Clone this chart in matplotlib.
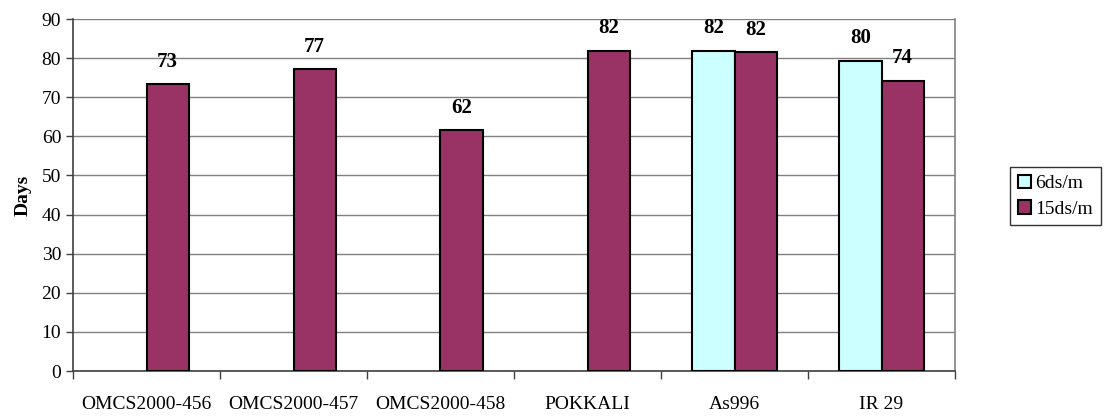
import matplotlib.pyplot as plt
import numpy as np

plt.rcParams['font.family'] = ['Liberation Serif', 'DejaVu Serif']

kategorie = ['OMCS2000-456', 'OMCS2000-457', 'OMCS2000-458', 'POKKALI', 'As996', 'IR 29']
seria_6 = [np.nan, np.nan, np.nan, np.nan, 81.9, 79.3]
seria_15 = [73.3, 77.2, 61.6, 81.9, 81.5, 74.2]
etykiety_6 = ['', '', '', '', '82', '80']
etykiety_15 = ['73', '77', '62', '82', '82', '74']

fig = plt.figure(figsize=(11.07, 4.16), dpi=100)
ax = fig.add_axes([73 / 1107, 1 - 371 / 416, (955 - 73) / 1107, (371 - 19) / 416])

x = np.arange(len(kategorie))
w = 0.286
b6 = ax.bar(x - w / 2, seria_6, w, color='#ccffff', edgecolor='black', linewidth=1.5,
            label='6ds/m', zorder=3)
b15 = ax.bar(x + w / 2, seria_15, w, color='#993366', edgecolor='black', linewidth=1.5,
             label='15ds/m', zorder=3)

for rect, txt in zip(list(b6) + list(b15), etykiety_6 + etykiety_15):
    if txt:
        ax.annotate(txt, (rect.get_x() + rect.get_width() / 2, rect.get_height()),
                    xytext=(0, 9), textcoords='offset points', ha='center', va='bottom',
                    fontsize=15, fontweight='bold')

ax.set_xlim(-0.5, len(kategorie) - 0.5)
ax.set_ylim(0, 90)
ax.set_yticks(range(0, 91, 10))
ax.yaxis.grid(True, color='#808080', linewidth=1, zorder=0)
ax.set_xticks(x)
ax.set_xticklabels(kategorie, fontsize=14)
ax.tick_params(axis='x', length=0, pad=18)
ax.set_xticks(np.arange(-0.5, len(kategorie)), minor=True)
ax.tick_params(axis='x', which='minor', length=6, color='#404040', width=1)
ax.tick_params(axis='y', length=5, color='#404040', width=1, labelsize=14)
ax.set_ylabel('Days', fontsize=14, fontweight='bold', labelpad=7)

ax.spines['left'].set_color('#404040')
ax.spines['bottom'].set_color('#404040')
ax.spines['right'].set_color('#808080')
ax.spines['top'].set_visible(False)
for s in ax.spines.values():
    s.set_linewidth(1.2)

leg = ax.legend(loc='center left', bbox_to_anchor=(1010 / 1107, 1 - 196 / 416),
                bbox_transform=fig.transFigure, frameon=True, fancybox=False,
                edgecolor='black', fontsize=14, handlelength=0.7, handleheight=0.7,
                handletextpad=0.2, borderpad=0.4, labelspacing=0.4, borderaxespad=0)
leg.get_frame().set_linewidth(1)

plt.savefig('out.png', dpi=100)
